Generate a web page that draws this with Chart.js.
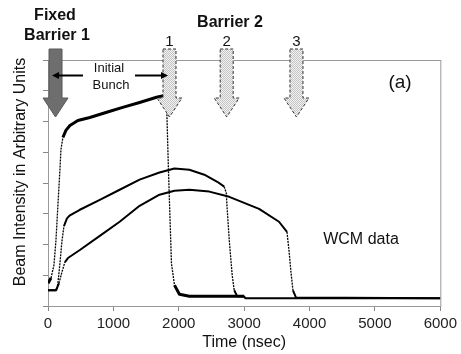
<!DOCTYPE html>
<html>
<head>
<meta charset="utf-8">
<script src="https://cdn.jsdelivr.net/npm/chart.js@4.4.0/dist/chart.umd.min.js"></script>
<style>
  html, body { margin: 0; padding: 0; background: #fff; }
</style>
</head>
<body>
<canvas id="wcm" width="461" height="354"></canvas>
<script>
// x axis ticks (nsec)
const timeTicks = [0, 1000, 2000, 3000, 4000, 5000, 6000];

// bunch with Barrier 2 at position 1
const bunch1Time   = [0, 46, 91, 122, 152, 183, 198, 228, 274, 335, 457, 640, 898, 1142, 1401, 1660, 1782, 1812, 1842, 1888, 1934, 2010, 2162, 3000];
const bunch1Signal = [0.74, 0.91, 1.33, 2.15, 3.29, 4.45, 5.09, 5.48, 5.71, 5.87, 6.03, 6.13, 6.30, 6.46, 6.62, 6.79, 6.85, 6.72, 4.43, 1.39, 0.68, 0.38, 0.32, 0.32];

// bunch with Barrier 2 at position 2
const bunch2Time   = [0, 107, 137, 152, 183, 213, 244, 290, 335, 487, 792, 1096, 1401, 1705, 1934, 2162, 2391, 2589, 2695, 2726, 2741, 2772, 2817, 2848, 2893, 3000, 3020, 6000];
const bunch2Signal = [0.51, 0.51, 0.55, 0.75, 1.40, 2.10, 2.60, 2.85, 2.95, 3.13, 3.45, 3.78, 4.11, 4.34, 4.47, 4.43, 4.27, 4.04, 3.88, 3.68, 3.13, 2.15, 1.00, 0.51, 0.32, 0.31, 0.25, 0.25];

// bunch with Barrier 2 at position 3
const bunch3Time   = [0, 122, 168, 213, 259, 305, 487, 792, 1096, 1401, 1705, 1934, 2162, 2467, 2772, 3228, 3533, 3655, 3685, 3716, 3746, 3792, 6000];
const bunch3Signal = [0.51, 0.51, 0.74, 1.10, 1.43, 1.56, 1.82, 2.28, 2.74, 3.26, 3.62, 3.75, 3.78, 3.72, 3.55, 3.16, 2.74, 2.41, 1.82, 1.10, 0.51, 0.28, 0.25];

// barrier positions
const fixedBarrierTime = 115;
const barrier2Times  = [1858, 2733, 3800];
const barrier2Labels = ['1', '2', '3'];

const FONT = 'Arial, "Liberation Sans", sans-serif';

const toPoints = (xs, ys) => xs.map((x, i) => ({ x, y: ys[i] }));

// steep edges are sparsely sampled, draw them thin and dotted
const steep = ctx => Math.abs(ctx.p1.y - ctx.p0.y) > 3 * Math.abs(ctx.p1.x - ctx.p0.x);

function trace(xs, ys, width) {
  return {
    data: toPoints(xs, ys),
    borderColor: '#000',
    borderWidth: width,
    borderJoinStyle: 'round',
    pointRadius: 0,
    tension: 0,
    segment: {
      borderWidth: ctx => steep(ctx) ? 1.3 : width,
      borderDash: ctx => steep(ctx) ? [2, 1] : undefined
    }
  };
}

function arrowDown(ctx, cx, opts) {
  const top = 49, neck = 98, tip = 117, sw = 6.5, hw = 12.5;
  ctx.beginPath();
  ctx.moveTo(cx - sw, top);
  ctx.lineTo(cx + sw, top);
  ctx.lineTo(cx + sw, neck);
  ctx.lineTo(cx + hw, neck);
  ctx.lineTo(cx, tip);
  ctx.lineTo(cx - hw, neck);
  ctx.lineTo(cx - sw, neck);
  ctx.closePath();
  ctx.fillStyle = opts.fill;
  ctx.fill();
  ctx.setLineDash(opts.dash || []);
  ctx.lineWidth = 1;
  ctx.strokeStyle = opts.stroke;
  ctx.stroke();
  ctx.setLineDash([]);
}

function hArrow(ctx, x0, x1, y) {
  const dir = Math.sign(x1 - x0);
  ctx.strokeStyle = '#000';
  ctx.fillStyle = '#000';
  ctx.lineWidth = 2;
  ctx.beginPath();
  ctx.moveTo(x0, y);
  ctx.lineTo(x1 - dir * 5, y);
  ctx.stroke();
  ctx.beginPath();
  ctx.moveTo(x1, y);
  ctx.lineTo(x1 - dir * 7, y - 3.5);
  ctx.lineTo(x1 - dir * 7, y + 3.5);
  ctx.closePath();
  ctx.fill();
}

const annotations = {
  id: 'annotations',
  beforeDatasetsDraw(chart) {
    const { ctx, chartArea: a } = chart;
    ctx.save();
    ctx.strokeStyle = '#999';
    ctx.lineWidth = 1;
    ctx.strokeRect(a.left + 0.5, a.top + 0.5, a.right - a.left, a.bottom - a.top);
    ctx.restore();
  },
  afterDraw(chart) {
    const { ctx } = chart;
    const xs = chart.scales.x;
    ctx.save();

    // stippled fill for the movable barrier
    const tile = document.createElement('canvas');
    tile.width = 2; tile.height = 2;
    const t = tile.getContext('2d');
    t.fillStyle = '#f2f2f2'; t.fillRect(0, 0, 2, 2);
    t.fillStyle = '#c4c4c4'; t.fillRect(0, 0, 1, 1); t.fillRect(1, 1, 1, 1);
    const stipple = ctx.createPattern(tile, 'repeat');

    const fx = xs.getPixelForValue(fixedBarrierTime);
    arrowDown(ctx, fx, { fill: '#6e6e6e', stroke: '#5a5a5a' });
    barrier2Times.forEach(tm => {
      arrowDown(ctx, xs.getPixelForValue(tm), { fill: stipple, stroke: '#333', dash: [3, 2] });
    });

    ctx.fillStyle = '#111';
    ctx.textAlign = 'center';
    ctx.textBaseline = 'middle';

    ctx.font = 'bold 16px ' + FONT;
    ctx.fillText('Fixed', 55, 16);
    ctx.fillText('Barrier 1', 57, 36);
    ctx.fillText('Barrier 2', 230, 23);

    ctx.font = '15px ' + FONT;
    barrier2Times.forEach((tm, i) => {
      ctx.fillText(barrier2Labels[i], xs.getPixelForValue(tm), 42);
    });

    ctx.font = '13px ' + FONT;
    ctx.fillText('Initial', 109, 68);
    ctx.fillText('Bunch', 111, 85);
    hArrow(ctx, 83, 52, 75.5);
    hArrow(ctx, 135, 168, 75.5);

    ctx.fillStyle = '#111';
    ctx.font = '19px ' + FONT;
    ctx.fillText('(a)', 400, 83);
    ctx.font = '16px ' + FONT;
    ctx.fillText('WCM data', 361, 240);

    // y axis title
    ctx.translate(21, 172);
    ctx.rotate(-Math.PI / 2);
    ctx.fillText('Beam Intensity in Arbitrary Units', 0, 0);
    ctx.restore();
  }
};

new Chart(document.getElementById('wcm'), {
  type: 'line',
  data: {
    datasets: [
      trace(bunch1Time, bunch1Signal, 3),
      trace(bunch2Time, bunch2Signal, 2),
      trace(bunch3Time, bunch3Signal, 2)
    ]
  },
  options: {
    responsive: false,
    animation: false,
    devicePixelRatio: 1,
    layout: { padding: { top: 60, right: 19, left: 0, bottom: 0 } },
    plugins: { legend: { display: false }, tooltip: { enabled: false } },
    scales: {
      x: {
        type: 'linear',
        min: 0,
        max: 6000,
        afterBuildTicks: s => { s.ticks = timeTicks.map(v => ({ value: v })); },
        afterFit: s => { s.height = 48; },
        ticks: {
          color: '#222',
          font: { family: FONT, size: 15 },
          padding: 4,
          maxRotation: 0,
          callback: v => String(v)
        },
        grid: { drawOnChartArea: false, tickLength: 5, color: '#888' },
        border: { color: '#888' },
        title: {
          display: true,
          text: 'Time (nsec)',
          color: '#111',
          font: { family: FONT, size: 16 },
          padding: { top: 0, bottom: 2 }
        }
      },
      y: {
        min: 0,
        max: 8,
        afterFit: s => { s.width = 48; },
        ticks: { stepSize: 1, callback: () => '' },
        grid: { drawOnChartArea: false, tickLength: 5, color: '#888' },
        border: { color: '#888' }
      }
    }
  },
  plugins: [annotations]
});
</script>
</body>
</html>
